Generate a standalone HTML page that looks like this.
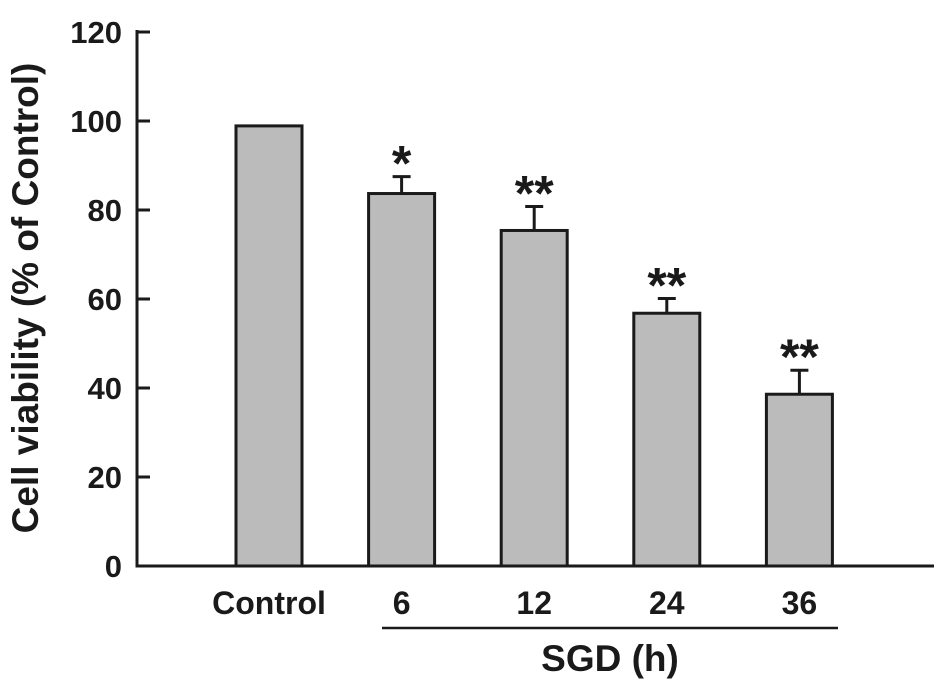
<!DOCTYPE html>
<html><head><meta charset="utf-8"><style>
body{margin:0;background:#fff}
svg text{font-family:"Liberation Sans",Arial,sans-serif;font-weight:bold;fill:#1a1a1a}
</style></head><body>
<svg width="945" height="683" viewBox="0 0 945 683">
<g id="g"></g>
</svg>
<script>
const categories=["Control","6","12","24","36"];
const values=[98.9,83.7,75.4,56.8,38.6];
const errors=[0,3.8,5.4,3.3,5.4];
const stars=["","*","**","**","**"];
const yTicks=[0,20,40,60,80,100,120];
const NS="http://www.w3.org/2000/svg";
const g=document.getElementById('g');
const y0=566,pxPer=(566-32)/120;
function y(v){return y0-v*pxPer;}
function x(i){return 269+i*132.6;}
function mk(t,a,txt){const e=document.createElementNS(NS,t);for(const k in a)e.setAttribute(k,a[k]);if(txt!==undefined)e.textContent=txt;g.appendChild(e);return e;}
let e;
e=mk('line',{x1:137,y1:30,x2:137,y2:y0+1.5,stroke:'#1a1a1a','stroke-width':3});


e=mk('line',{x1:135.5,y1:y0,x2:934,y2:y0,stroke:'#1a1a1a','stroke-width':3});


yTicks.forEach(t=>{
 e=mk('line',{x1:137,y1:y(t),x2:150,y2:y(t),stroke:'#1a1a1a','stroke-width':3});
 
 
 e=mk('text',{x:122,y:y(t)+11,'text-anchor':'end','font-size':31},String(t));
 
 
});
categories.forEach((c,i)=>{
 const cx=x(i),w=66;
 if(errors[i]>0){
  e=mk('line',{x1:cx,y1:y(values[i]),x2:cx,y2:y(values[i]+errors[i]),stroke:'#1a1a1a','stroke-width':3});
  
  
  e=mk('line',{x1:cx-9,y1:y(values[i]+errors[i]),x2:cx+9,y2:y(values[i]+errors[i]),stroke:'#1a1a1a','stroke-width':3});
  
  
 }
 e=mk('rect',{x:cx-w/2,y:y(values[i]),width:w,height:y0-y(values[i]),fill:'#bbbbbb',stroke:'#1a1a1a','stroke-width':3});
 
 
 if(stars[i]){
  e=mk('text',{x:cx,y:y(values[i]+errors[i])+4,'text-anchor':'middle','font-size':50},stars[i]);
  
  
 }
 e=mk('text',{x:cx,y:614,'text-anchor':'middle','font-size':32},c);
 
 
});
e=mk('line',{x1:382,y1:628,x2:838,y2:628,stroke:'#1a1a1a','stroke-width':2.5});


e=mk('text',{x:610,y:671,'text-anchor':'middle','font-size':37},'SGD (h)');


e=mk('text',{x:0,y:0,'text-anchor':'middle','font-size':37,transform:'translate(38,298) rotate(-90)'},'Cell viability (% of Control)');


</script>
</body></html>
